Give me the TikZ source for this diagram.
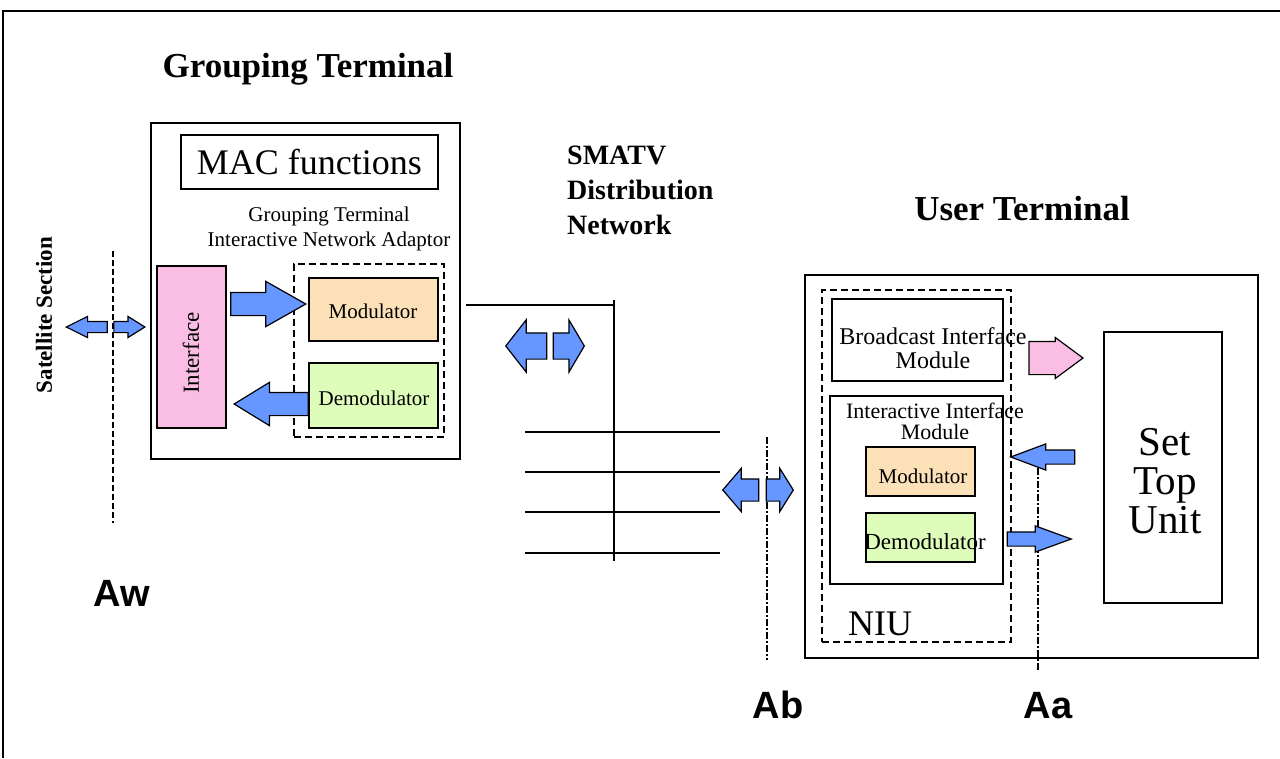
\documentclass[tikz,border=0pt]{standalone}
\usepackage{fontspec}
\setmainfont{Liberation Serif}
\newfontfamily\arialfont{Liberation Sans}
\usetikzlibrary{positioning, shapes.arrows}

\definecolor{arrowblue}{RGB}{102,150,255}
\definecolor{ifpink}{RGB}{250,190,228}
\definecolor{modfill}{RGB}{252,224,184}
\definecolor{demodfill}{RGB}{222,253,186}

\tikzset{
  box/.style={draw, line width=1.6pt, inner sep=0, anchor=north west},
  dashbox/.style={draw, line width=1.6pt, dash pattern=on 7pt off 4pt, inner sep=0, anchor=north west},
  barrow/.style={single arrow, draw, line width=1.2pt, fill=arrowblue, inner xsep=0,
    inner ysep=#1, single arrow head indent=0, anchor=tip},
  title/.style={font=\bfseries\fontsize{35}{40}\selectfont, anchor=base},
  refpt/.style={font=\arialfont\bfseries\fontsize{38}{40}\selectfont, anchor=base},
  refline/.style={line width=1.2pt, dash pattern=on 7pt off 2pt on 2pt off 2pt},
}

\begin{document}
\begin{tikzpicture}[x=1pt, y=-1pt, inner sep=0]
    \useasboundingbox (0,0) rectangle (1280,758);
    \draw[line width=2pt] (1280,11) -- (3,11) -- (3,758);

    % grouping terminal
    \node (gtitle) [title] at (308,77) {Grouping Terminal};
    \node (gt) [box, minimum width=309, minimum height=336] at (150,122) {};
    \node (mac) [box, minimum width=257, minimum height=54] at (180,134) {};
    \node (mactext) [font=\fontsize{36}{40}\selectfont] at (mac.center) {MAC functions};
    \node (gtina) [align=center, font=\fontsize{21}{25}\selectfont] at (329,229)
        {Grouping Terminal\\Interactive Network Adaptor};
    \node (iface) [box, fill=ifpink, minimum width=69, minimum height=162] at (156,265) {};
    \node (iftext) [rotate=90, font=\fontsize{23}{25}\selectfont] at (191,353) {Interface};
    \node (ina) [dashbox, minimum width=150, minimum height=173] at (293,263) {};
    \node (gmod) [box, fill=modfill, minimum width=129, minimum height=63] at (308,277) {};
    \node (gdemod) [box, fill=demodfill, minimum width=129, minimum height=65] at (308,362) {};
    \node [font=\fontsize{21}{25}\selectfont] at (373,311) {Modulator};
    \node [font=\fontsize{21}{25}\selectfont] at (374,398) {Demodulator};
    \node (ga1) [barrow=11, minimum height=75, minimum width=44, single arrow head extend=11,
        single arrow tip angle=59] at (307,304) {};
    \node (ga2) [barrow=11, minimum height=74, minimum width=42, single arrow head extend=10,
        single arrow tip angle=63, shape border rotate=180] at (233,404) {};

    % satellite section
    \node (sat) [rotate=90, font=\bfseries\fontsize{23}{25}\selectfont] at (44,315) {Satellite Section};
    \coordinate (awT) at (113,251);
    \coordinate (awB) at (113,523);
    \draw[line width=1.2pt, dash pattern=on 6pt off 3pt] (awT) -- (awB);
    \node (sa1) [barrow=5, minimum height=41, minimum width=20, single arrow head extend=5,
        single arrow tip angle=53, shape border rotate=180] at (65,327) {};
    \node (sa2) [barrow=5, minimum height=31, minimum width=20, single arrow head extend=5,
        single arrow tip angle=64] at (146,327) {};
    \node (aw) [refpt] at (122,606) {Aw};

    % SMATV distribution
    \node (smatv) [align=left, anchor=north west, font=\bfseries\fontsize{28}{35}\selectfont]
        at (567,146) {SMATV\\Distribution\\Network};
    \coordinate (feed) at (466,305);
    \coordinate (busT) at (614,300);
    \coordinate (busB) at (614,561);
    \draw[line width=1.6pt] (feed) -- (feed -| busT);
    \draw[line width=1.6pt] (busT) -- (busB);
    \foreach \y in {432,472,512,553}
        \draw[line width=1.6pt] (525,\y) -- (720,\y);
    \node (ma1) [barrow=12.5, minimum height=41, minimum width=51, single arrow head extend=13,
        single arrow tip angle=104, shape border rotate=180] at (505,346) {};
    \node (ma2) [barrow=12.5, minimum height=31, minimum width=51, single arrow head extend=13,
        single arrow tip angle=119] at (585,346) {};

    % Ab
    \coordinate (abT) at (767,437);
    \coordinate (abB) at (767,660);
    \draw[refline] (abT) -- (abB);
    \node (ba1) [barrow=10.5, minimum height=36, minimum width=42, single arrow head extend=10.5,
        single arrow tip angle=99, shape border rotate=180] at (722,490) {};
    \node (ba2) [barrow=10.5, minimum height=27, minimum width=42, single arrow head extend=10.5,
        single arrow tip angle=116] at (794,490) {};
    \node (ab) [refpt] at (778,718) {Ab};

    % user terminal
    \node (utitle) [title] at (1022,220) {User Terminal};
    \node (ut) [box, minimum width=453, minimum height=383] at (804,274) {};
    \node (niu) [dashbox, minimum width=189, minimum height=352] at (821,289) {};
    \node (niutext) [anchor=base west, font=\fontsize{36}{40}\selectfont] at (848,635) {NIU};
    \node (bim) [box, minimum width=171, minimum height=82] at (831,298) {};
    \node (bimtext) [align=center, font=\fontsize{24}{24}\selectfont] at (933,348)
        {Broadcast Interface\\Module};
    \node (iim) [box, minimum width=173, minimum height=188] at (829,395) {};
    \node (iimtext) [align=center, font=\fontsize{22}{21}\selectfont] at (935,421)
        {Interactive Interface\\Module};
    \node (umod) [box, fill=modfill, minimum width=109, minimum height=49] at (865,446) {};
    \node (udemod) [box, fill=demodfill, minimum width=109, minimum height=49] at (865,512) {};
    \node [font=\fontsize{21}{25}\selectfont] at (923,476) {Modulator};
    \node [font=\fontsize{23}{25}\selectfont] at (925,542) {Demodulator};
    \node (stu) [box, minimum width=118, minimum height=271] at (1103,331) {};
    \node (stutext) [align=center, font=\fontsize{41}{39}\selectfont] at (1165,481)
        {Set\\Top\\Unit};
    \coordinate (aaT) at (1038,468);
    \coordinate (aaB) at (1038,670);
    \draw[refline] (aaT) -- (aaB);
    \node (ua0) [barrow=16, fill=ifpink, minimum height=54, minimum width=40,
        single arrow head extend=4, single arrow tip angle=73] at (1084,358) {};
    \node (ua1) [barrow=6.5, minimum height=64, minimum width=25, single arrow head extend=6,
        single arrow tip angle=41, shape border rotate=180] at (1009,457) {};
    \node (ua2) [barrow=6.5, minimum height=64, minimum width=25, single arrow head extend=6,
        single arrow tip angle=40] at (1073,539) {};
    \node (aa) [refpt] at (1048,718) {Aa};
\end{tikzpicture}
\end{document}
